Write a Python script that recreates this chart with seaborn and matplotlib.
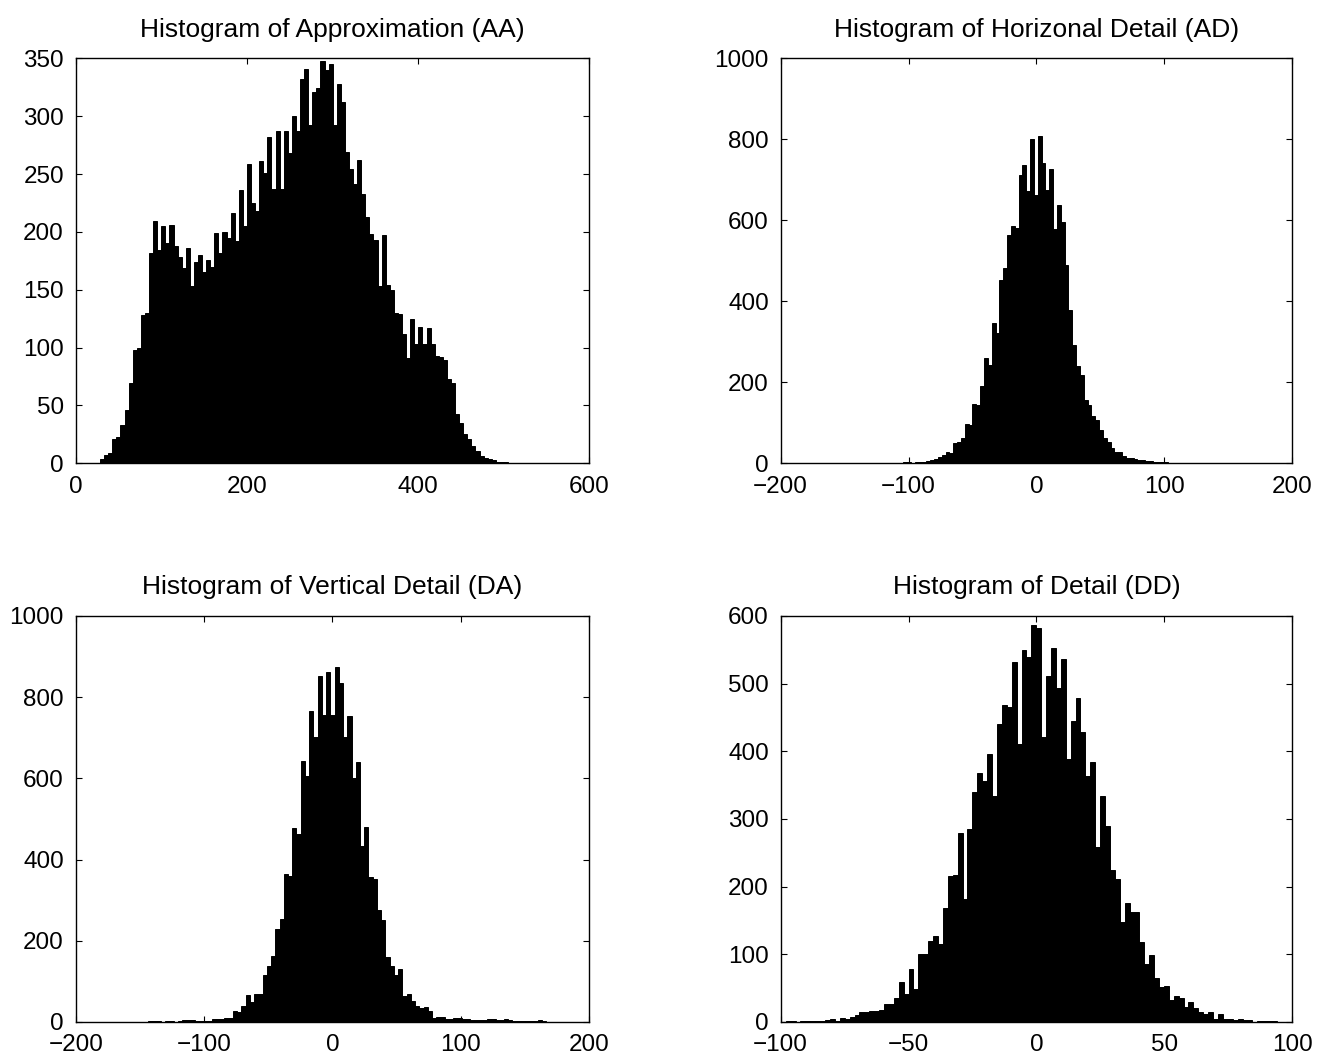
import numpy as np
import pandas as pd
import matplotlib
matplotlib.use('Agg')
import matplotlib.pyplot as plt
import seaborn as sns

sns.set_style('ticks')
plt.rcParams['font.family'] = ['Liberation Sans', 'DejaVu Sans']
plt.rcParams['axes.linewidth'] = 1.0
plt.rcParams['axes.edgecolor'] = 'black'
plt.rcParams['text.color'] = 'black'
plt.rcParams['axes.titlecolor'] = 'black'

# bin counts (100 bins each)
aa_start, aa_width = 28.4, 4.77
aa_counts = [4, 7, 9, 21, 23, 33, 46, 69, 98, 100, 128, 130, 182, 209, 184, 205, 190, 206, 188, 178,
             169, 186, 153, 174, 180, 165, 176, 170, 199, 182, 200, 195, 216, 192, 236, 205, 259, 225,
             218, 261, 251, 282, 237, 287, 237, 287, 268, 300, 287, 332, 341, 292, 321, 324,
             348, 340, 345, 292, 328, 312, 269, 254, 241, 262, 233, 213, 198, 193, 153, 197, 154, 150,
             130, 129, 112, 91, 125, 103, 118, 103, 117, 103, 93, 92, 89, 73, 69, 43, 35, 25, 21, 15,
             11, 6, 5, 4, 3, 1, 1, 1]

ad_start, ad_width = -152.0, 3.0
ad_counts = [1, 0, 1, 2, 1, 1, 0, 1, 0, 1, 1, 0, 1, 2, 1, 2, 3, 3, 2, 4, 3, 4, 6, 8,
             10, 15, 21, 28, 25, 50, 52, 62, 98, 95, 147, 145, 190, 259, 244, 347, 322, 453, 483, 563,
             586, 580, 712, 736, 673, 801, 662, 809, 741, 674, 726, 578, 637, 595, 489, 378, 291, 241,
             217, 157, 145, 118, 106, 83, 62, 52, 39, 29, 28, 17,
             14, 12, 10, 9, 8, 6, 5, 4, 4, 3, 3, 2, 2, 1, 1, 2, 1, 0, 1, 1, 0, 0, 1, 0, 0, 1]

da_start, da_width = -160.0, 3.3
da_counts = [1, 1, 0, 0, 1, 2, 2, 2, 1, 2, 2, 1, 3, 4, 5, 4, 3, 3, 2, 3,
             7, 8, 8, 9, 9,
             27, 24, 39, 66, 48, 70, 70, 115, 138, 163, 228, 253, 364, 360, 477, 464, 643, 606, 766, 701,
             853, 756, 861, 756, 873, 836, 701, 754, 602, 639, 434, 480, 357, 352, 275, 251, 159, 138,
             116, 130, 64, 70, 52, 39, 35, 37, 27, 9, 13, 11, 8, 8, 9, 9, 6, 6, 4, 4, 4, 4, 6, 6, 5, 5,
             6, 5, 2, 2, 2, 2, 2, 2, 4, 2, 1]

dd_start, dd_width = -98.0, 1.92
dd_counts = [2, 1, 0, 1, 2, 2, 1, 2, 3, 4, 2, 6, 5, 8, 10, 15, 14, 16, 16, 18,
             26, 26, 36, 59, 42, 78, 48, 100, 100, 119, 127, 115, 168, 215, 217, 279, 181, 285, 340, 368,
             356, 396, 334, 441, 468, 465, 532, 411, 549, 539, 587, 582, 421, 511, 552, 493, 537, 389,
             444, 478, 429, 364, 384, 259, 334, 289, 225, 211, 147, 176, 163, 162, 118, 86, 99, 65, 52,
             53, 32, 39, 35, 22, 30, 21, 15, 12, 14, 5, 12, 5, 4, 3, 5, 3, 3, 0, 1, 1, 1, 2]

titles = ['Histogram of Approximation (AA)', 'Histogram of Horizonal Detail (AD)',
          'Histogram of Vertical Detail (DA)', 'Histogram of Detail (DD)']


def draw_hist(ax, start, width, counts, title, xlim, xticks, ylim, yticks):
    edges = [start + width * i for i in range(len(counts) + 1)]
    df = pd.DataFrame({'value': [(edges[i] + edges[i + 1]) / 2 for i in range(len(counts))],
                       'count': counts})
    sns.histplot(data=df, x='value', weights='count', bins=edges, ax=ax, color='black',
                 edgecolor='black', linewidth=0.7, alpha=1.0)
    ax.set_xlim(*xlim)
    ax.set_ylim(*ylim)
    ax.set_xticks(xticks)
    ax.set_yticks(yticks)
    ax.set_xlabel('')
    ax.set_ylabel('')
    ax.set_title(title, fontsize=19, pad=15.5, color='black')
    ax.tick_params(direction='in', length=4.5, width=0.8, top=True, right=True,
                   labelsize=17.5, colors='black')
    ax.tick_params(axis='x', pad=9)
    ax.tick_params(axis='y', pad=8.5)
    for s in ax.spines.values():
        s.set_visible(True)


fig = plt.figure(figsize=(13.22, 10.59), dpi=100)
ax1 = fig.add_axes([0.0573, 0.5625, 0.3883, 0.3824])
ax2 = fig.add_axes([0.5905, 0.5625, 0.3870, 0.3824])
ax3 = fig.add_axes([0.0573, 0.0350, 0.3883, 0.3834])
ax4 = fig.add_axes([0.5905, 0.0350, 0.3870, 0.3834])

draw_hist(ax1, aa_start, aa_width, aa_counts, titles[0], (0, 600), [0, 200, 400, 600],
          (0, 350), list(range(0, 351, 50)))
draw_hist(ax2, ad_start, ad_width, ad_counts, titles[1], (-200, 200), [-200, -100, 0, 100, 200],
          (0, 1000), list(range(0, 1001, 200)))
draw_hist(ax3, da_start, da_width, da_counts, titles[2], (-200, 200), [-200, -100, 0, 100, 200],
          (0, 1000), list(range(0, 1001, 200)))
draw_hist(ax4, dd_start, dd_width, dd_counts, titles[3], (-100, 100), [-100, -50, 0, 50, 100],
          (0, 600), list(range(0, 601, 100)))

fig.savefig('out.png', dpi=100, facecolor='white')
